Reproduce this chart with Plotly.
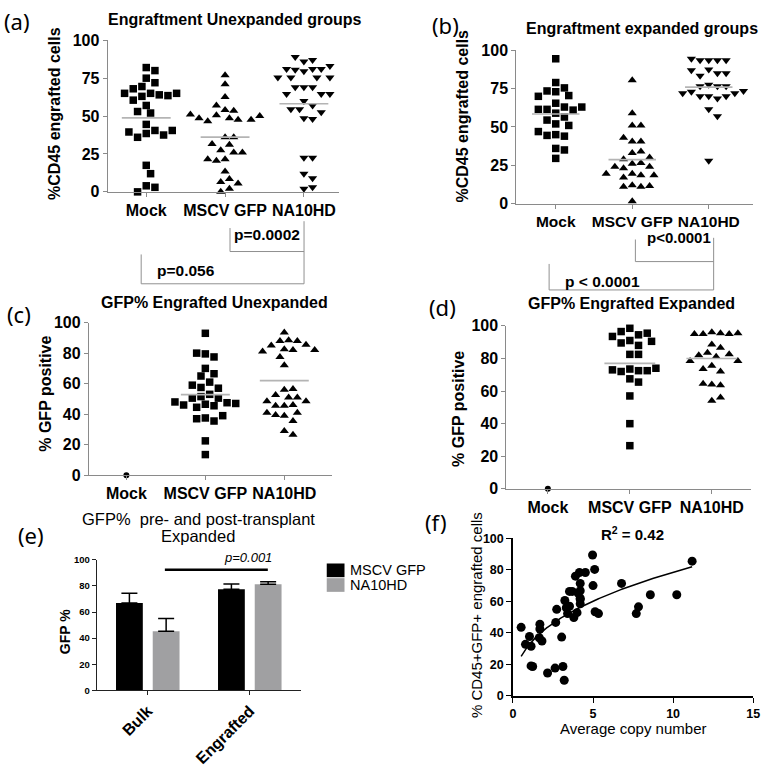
import numpy as np
import plotly.graph_objects as go

W, H = 770, 772
FONT = "Liberation Sans"
LABEL_FONT = "Noto Sans"

# ---------------- data ----------------
CATS = ["Mock", "MSCV GFP", "NA10HD"]

# (a) Engraftment, unexpanded (%CD45)
A_MOCK = [82, 80, 75, 72, 69.5, 68, 65, 64, 63, 63.5, 65, 65, 60.5, 57, 52, 53, 44.5, 40.5,
          38.5, 36, 37.5, 39.5, 40.5, 17.5, 12, 4, 3, 0]
A_MSCV = [77, 71, 62.5, 54, 53.5, 57, 50.5, 48.5, 47.5, 46.5, 47.5, 48.5, 50, 51, 36, 36, 31,
          27.5, 31.5, 26, 26, 21.5, 20.5, 21.5, 13.5, 8.5, 6.5, 5.5, 2, 0]
A_NA10HD = [86, 87, 89, 79.5, 81, 80.5, 81, 81, 83, 75.5, 75.5, 75.5, 75.5, 69, 69, 69, 64.5,
            64.5, 64.5, 60, 57, 54.5, 54.5, 52.5, 48.5, 48, 22.5, 22.5, 12, 9, 2, 3]
A_MEANS = [48.8, 36.1, 58.1]

# (b) Engraftment, expanded (%CD45)
B_MOCK = [94.5, 79, 75.5, 73, 73.5, 70.5, 70, 65.5, 63, 61.5, 61, 61.5, 63, 59, 56.5, 54.5,
          52, 51, 45, 44, 44.5, 47, 36, 35, 29.5]
B_MSCV = [80.5, 59, 51, 51, 40.5, 40.5, 43, 33, 34, 29, 30, 26, 26.5, 23, 24, 24, 19.5, 18.5,
          18.5, 19.5, 17, 12, 11, 11, 11.5, 1.5]
B_NA10HD = [93.5, 93.5, 93.5, 93.5, 94.5, 87.5, 85, 83.5, 85, 87, 77.5, 76.5, 76.5, 76.5, 73,
            72, 70, 68.5, 70, 70, 72, 73.5, 61.5, 57, 28]
B_MEANS = [58.5, 28.7, 76.0]

# (c) GFP% engrafted, unexpanded
C_MOCK = [0]
C_MSCV = [93, 79.5, 77.5, 80, 70, 66.5, 65, 61, 57.5, 57, 59, 53, 51.5, 50.5, 50.5, 47.5, 46.5,
          45.5, 44.5, 46, 47, 48, 37.5, 35.5, 37, 39, 22.5, 13.5]
C_NA10HD = [93.5, 88.5, 88, 88, 85, 85.5, 82.5, 82, 81, 82, 77.5, 72, 56, 56.5, 51, 52.5, 51,
            48.5, 48.5, 45.5, 46, 45.5, 41, 39, 39.5, 41, 35.5, 29, 26.5]
C_MEANS = [None, 52.8, 62.0]

# (d) GFP% engrafted, expanded
D_MOCK = [0]
D_MSCV = [98.5, 94.5, 96.5, 95.5, 93.5, 91, 89.5, 90.5, 88, 82.5, 82.5, 73.5, 72.5, 72, 72.5,
          73, 74, 67.5, 65.5, 57, 40, 26.5]
D_NA10HD = [96, 95.5, 95, 95, 95, 95.5, 88.5, 86.5, 83.5, 82, 81, 82.5, 78.5, 78.5, 75.5, 72,
            73.5, 64, 63.5, 64.5, 54, 56]
D_MEANS = [None, 77.0, 80.0]

# (e) GFP% pre- and post-transplant, expanded
E_CATS = ["Bulk", "Engrafted"]
E_SERIES = ["MSCV GFP", "NA10HD"]
E_MSCV = [67.0, 77.5]
E_MSCV_ERR = [7.5, 4.0]
E_NA10HD = [45.3, 81.3]
E_NA10HD_ERR = [9.7, 2.0]

# (f) %CD45+GFP+ vs average copy number
F_X = [0.51, 0.78, 1.03, 1.13, 1.13, 1.23, 1.64, 1.68, 1.68, 1.81, 2.16, 2.63, 2.67, 2.73,
       3.04, 3.12, 3.2, 3.24, 3.33, 3.41, 3.53, 3.53, 3.7, 3.8, 3.9, 4.0, 4.07, 4.15, 4.2,
       4.2, 4.2, 4.2, 4.2, 4.52, 4.97, 5.0, 5.1, 5.13, 5.34, 6.78, 7.7, 7.84, 8.58, 10.23, 11.19]
F_Y = [43.5, 32.7, 37.7, 31.5, 19, 18.6, 36.9, 45.5, 42.4, 34.8, 14.5, 17.6, 46.6, 54.9,
       37.3, 18.6, 9.9, 60.5, 55.9, 52.2, 56.9, 66.3, 66.3, 49.7, 76, 52.8, 65.2, 78.3, 71.4,
       66.7, 61.1, 58.4, 62, 78.3, 89.4, 70, 80.3, 53.4, 52.2, 71.4, 52.2, 56.5, 64.2, 64.2, 85.5]
F_R2 = "0.42"


def pxx(x):
    return x / W


def pyy(y):
    return 1 - y / H


def swarm(values, center, kx, ky, d=8.8):
    """Simple beeswarm: offset points horizontally so markers don't overlap (pixel space)."""
    step = d / 2.0
    placed = []
    xs = []
    cands = [0.0]
    for i in range(1, 60):
        cands += [i * step, -i * step]
    for v in values:
        y = v * ky
        for c in cands:
            if all((c - a) ** 2 + (y - b) ** 2 >= d * d for a, b in placed):
                break
        placed.append((c, y))
        xs.append(center + c / kx)
    return xs


fig = go.Figure()

GRAY_AX = "#8a8a8a"
MEAN_COL = "#b4b4b4"


def dot_panel(n, groups, symbols, sizes, means, kx, ky):
    xa, ya = ("x%d" % n if n > 1 else "x"), ("y%d" % n if n > 1 else "y")
    for i, (vals, sym, sz) in enumerate(zip(groups, symbols, sizes)):
        xs = swarm(vals, i, kx, ky)
        fig.add_trace(go.Scatter(x=xs, y=vals, mode="markers", xaxis=xa, yaxis=ya,
                                 marker=dict(symbol=sym, size=sz, color="black",
                                             line=dict(width=0)),
                                 cliponaxis=False, showlegend=False, hoverinfo="y"))
        if means[i] is not None:
            fig.add_trace(go.Scatter(x=[i - 0.31, i + 0.31], y=[means[i], means[i]],
                                     mode="lines", xaxis=xa, yaxis=ya,
                                     line=dict(color=MEAN_COL, width=1.6),
                                     showlegend=False, hoverinfo="skip"))


dot_panel(1, [A_MOCK, A_MSCV, A_NA10HD], ["square", "triangle-up", "triangle-down"],
          [7.5, 8, 8], A_MEANS, 80, 1.55)
dot_panel(2, [B_MOCK, B_MSCV, B_NA10HD], ["square", "triangle-up", "triangle-down"],
          [7.5, 8, 8], B_MEANS, 77.5, 1.567)
dot_panel(3, [C_MOCK, C_MSCV, C_NA10HD], ["circle", "square", "triangle-up"],
          [6, 7.5, 8], C_MEANS, 80, 1.56)
dot_panel(4, [D_MOCK, D_MSCV, D_NA10HD], ["circle", "square", "triangle-up"],
          [6, 7.5, 8], D_MEANS, 83, 1.667)

# (e) bars
fig.add_trace(go.Bar(x=E_CATS, y=E_MSCV, name=E_SERIES[0], xaxis="x5", yaxis="y5",
                     marker=dict(color="black", line=dict(width=0)),
                     error_y=dict(type="data", array=E_MSCV_ERR, arrayminus=[0, 0],
                                  symmetric=False, color="black", thickness=1.5, width=8),
                     showlegend=False))
fig.add_trace(go.Bar(x=E_CATS, y=E_NA10HD, name=E_SERIES[1], xaxis="x5", yaxis="y5",
                     marker=dict(color="#a0a0a2", line=dict(width=0)),
                     error_y=dict(type="data", array=E_NA10HD_ERR, arrayminus=[0, 0],
                                  symmetric=False, color="black", thickness=1.5, width=8),
                     showlegend=False))

# (f) scatter + power-law fit (least squares on the data)
fx = np.array(F_X)
fy = np.array(F_Y)
best = None
for b in np.linspace(0.05, 1.2, 1151):
    xb = fx ** b
    a = (fy * xb).sum() / (xb * xb).sum()
    sse = ((fy - a * xb) ** 2).sum()
    if best is None or sse < best[0]:
        best = (sse, a, b)
_, fa, fb = best
xc = np.linspace(fx.min(), fx.max(), 200)
fig.add_trace(go.Scatter(x=fx, y=fy, mode="markers", xaxis="x6", yaxis="y6",
                         marker=dict(symbol="circle", size=9, color="black"),
                         cliponaxis=False, showlegend=False))
fig.add_trace(go.Scatter(x=xc, y=fa * xc ** fb, mode="lines", xaxis="x6", yaxis="y6",
                         line=dict(color="black", width=1.5), showlegend=False))


# ---------------- axes ----------------
def xdom(l, r):
    return [pxx(l), pxx(r)]


def ydom(top, bottom):
    return [pyy(bottom), pyy(top)]


def cat_x(dom, rng, color, size, anchor):
    return dict(domain=dom, range=rng, tickvals=[0, 1, 2], ticktext=CATS, anchor=anchor,
                showline=True, linecolor=color, linewidth=1, ticks="outside", ticklen=4,
                tickcolor=color, showgrid=False, zeroline=False,
                tickfont=dict(family=FONT, size=size, color="black", weight="bold"))


def val_y(dom, tickvals, color, size, anchor, lw=1, tl=4):
    return dict(domain=dom, range=[0, 100], tickvals=tickvals, anchor=anchor,
                showline=True, linecolor=color, linewidth=lw, ticks="outside", ticklen=tl,
                tickcolor=color, showgrid=False, zeroline=False,
                tickfont=dict(family=FONT, size=size, color="black", weight="bold"))


fig.update_layout(
    xaxis=cat_x(xdom(106, 340), [-0.49, 2.44], GRAY_AX, 16, "y"),
    yaxis=val_y(ydom(33, 188), [0, 25, 50, 75, 100], GRAY_AX, 16, "x"),
    xaxis2=cat_x(xdom(520, 760), [-0.516, 2.58], GRAY_AX, 15.5, "y2"),
    yaxis2=val_y(ydom(43.3, 200), [0, 25, 50, 75, 100], GRAY_AX, 16, "x2"),
    xaxis3=cat_x(xdom(87, 333), [-0.475, 2.6], GRAY_AX, 16, "y3"),
    yaxis3=val_y(ydom(321.7, 477.7), [0, 20, 40, 60, 80, 100], GRAY_AX, 16, "x3"),
    xaxis4=cat_x(xdom(510, 758), [-0.506, 2.48], GRAY_AX, 16, "y4"),
    yaxis4=val_y(ydom(325, 491.7), [0, 20, 40, 60, 80, 100], GRAY_AX, 16, "x4"),
    xaxis5=dict(domain=xdom(95, 301.7), range=[-0.5, 1.5], anchor="y5", type="category",
                showline=True, linecolor="#222", linewidth=1.2, ticks="outside", ticklen=4,
                tickcolor="#222", tickangle=-45, showgrid=False, zeroline=False,
                tickfont=dict(family=FONT, size=16, color="black", weight="bold")),
    yaxis5=val_y(ydom(564.3, 697.7), [0, 20, 40, 60, 80, 100], "#222", 9.5, "x5", lw=1.2),
    xaxis6=dict(domain=xdom(516.7, 760), range=[0, 15], anchor="y6",
                tickvals=[0, 5, 10, 15], showline=True, linecolor="black", linewidth=1.5,
                ticks="outside", ticklen=5, tickcolor="black", showgrid=False, zeroline=False,
                tickfont=dict(family=FONT, size=12.5, color="black", weight="bold")),
    yaxis6=val_y(ydom(542.3, 703.3), [0, 20, 40, 60, 80, 100], "black", 12.5, "x6",
                 lw=1.5, tl=5),
    barmode="group", bargap=0.28, bargroupgap=0.27,
    width=W, height=H, margin=dict(l=0, r=0, t=0, b=0),
    paper_bgcolor="white", plot_bgcolor="white", showlegend=False,
)

# ---------------- annotations ----------------
anns = []


def ann(text, x, y, size, family=FONT, angle=0, xanchor="center", color="black"):
    anns.append(dict(text=text, x=pxx(x), y=pyy(y), xref="paper", yref="paper",
                     xanchor=xanchor, yanchor="middle", showarrow=False, textangle=angle,
                     font=dict(family=family, size=size, color=color)))


# panel labels
for lab, x, y in [("(a)", 14, 13), ("(b)", 448, 17), ("(c)", 16, 313), ("(d)", 445, 306),
                  ("(e)", 28, 539), ("(f)", 439, 526)]:
    ann(lab, x, y, 22, family=LABEL_FONT)

# titles
ann("<b>Engraftment Unexpanded groups</b>", 235, 12, 16)
ann("<b>Engraftment expanded groups</b>", 647, 21, 16)
ann("<b>GFP% Engrafted Unexpanded</b>", 214, 301, 16)
ann("<b>GFP% Engrafted Expanded</b>", 637, 302, 16)
ann("GFP%  pre- and post-transplant", 198, 522, 16.5)
ann("Expanded", 198, 540, 16.5)
ann("<b>R<sup>2</sup> = %s</b>" % F_R2, 638, 537, 15)

# axis titles
ann("<b>%CD45 engrafted cells</b>", 52, 108, 16, angle=-90)
ann("<b>%CD45 engrafted cells</b>", 466, 110, 16, angle=-90)
ann("<b>% GFP positive</b>", 43, 394, 16, angle=-90)
ann("<b>% GFP positive</b>", 462, 410, 16, angle=-90)
ann("<b>GFP %</b>", 63, 638, 14, angle=-90)
ann("% CD45+GFP+ engrafted cells", 480, 621, 15, angle=-90)
ann("Average copy number", 638, 737, 15)

# p-values
ann("<b>p=0.0002</b>", 267, 232, 15.5)
ann("<b>p=0.056</b>", 185, 268, 15.5)
ann("<b>p<0.0001</b>", 685, 235, 15)
ann("<b>p < 0.0001</b>", 607, 280, 15.5)
ann("<i>p=0.001</i>", 248, 562, 13)

# legend (e)
leg_cols = ["black", "#a0a0a2"]
for i, (name, col) in enumerate(zip(E_SERIES, leg_cols)):
    y0 = 568 + i * 15
    anns.append(dict(text=name, x=pxx(350), y=pyy(y0 + 6.5), xref="paper", yref="paper",
                     xanchor="left", yanchor="middle", showarrow=False,
                     font=dict(family=FONT, size=14.5, color="black")))

fig.update_layout(annotations=anns)

# ---------------- shapes ----------------
shapes = []


def seg(x0, y0, x1, y1, color="#909090", width=1):
    shapes.append(dict(type="line", xref="paper", yref="paper", x0=pxx(x0), y0=pyy(y0),
                       x1=pxx(x1), y1=pyy(y1), line=dict(color=color, width=width)))


# (a) brackets
seg(230, 225, 230, 249)
seg(230, 249, 305, 249)
seg(305, 218, 305, 282)
seg(140, 252, 140, 282)
seg(140, 282, 305, 282)
# (b) brackets
seg(640.7, 236.7, 640.7, 259.3)
seg(640.7, 259.3, 720, 259.3)
seg(720, 235, 720, 288.3)
seg(553.3, 261.7, 553.3, 288.3)
seg(553.3, 288.3, 720, 288.3)
# (e) significance bar
seg(164, 574.3, 268.3, 574.3, color="black", width=2.5)
# legend swatches
for i, col in enumerate(leg_cols):
    y0 = 568 + i * 15
    shapes.append(dict(type="rect", xref="paper", yref="paper", x0=pxx(328), x1=pxx(346),
                       y0=pyy(y0 + 14), y1=pyy(y0), fillcolor=col, line=dict(width=0)))

fig.update_layout(shapes=shapes)

fig.write_html("out.html",
               config={"displayModeBar": False},
               post_script="document.body.style.margin='0';"
                           "document.body.style.overflow='hidden';")
